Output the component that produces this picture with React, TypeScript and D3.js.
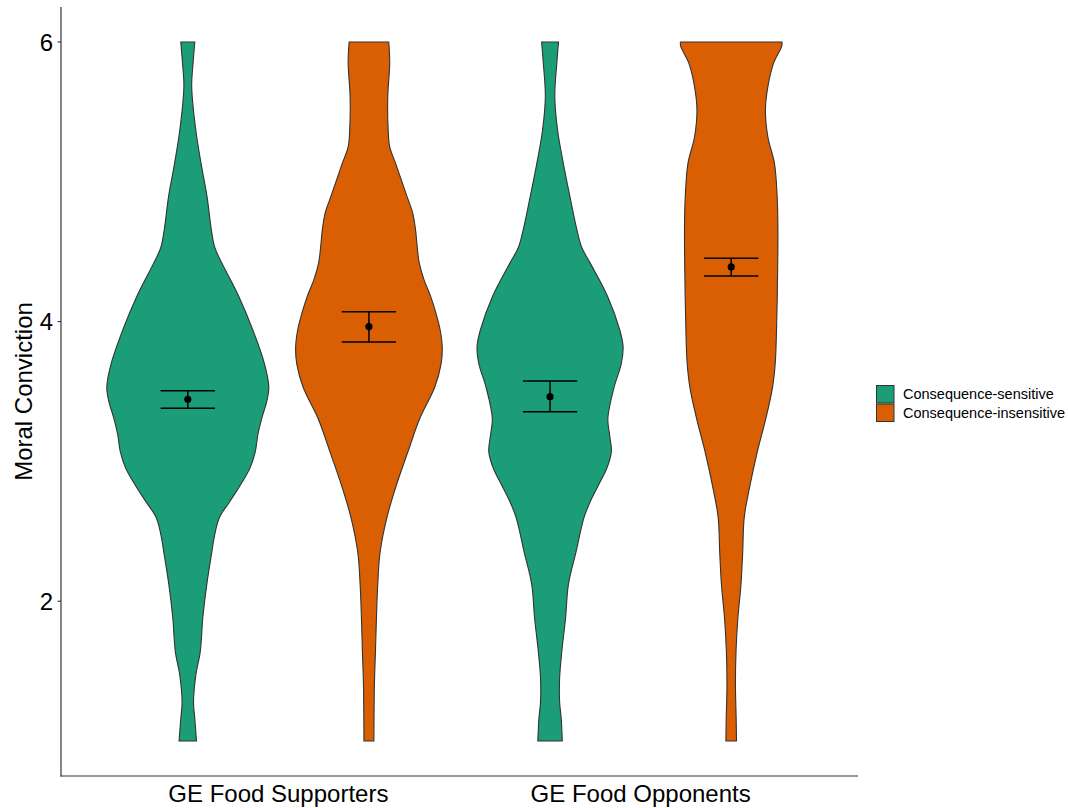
import React from 'react'
import * as d3 from 'd3'

// groups / fill levels
const groups = ['GE Food Supporters', 'GE Food Opponents']
const conditions = ['Consequence-sensitive', 'Consequence-insensitive']
const colors = ['#1b9e77', '#d95f02']
const yTicks = [2, 4, 6]

// violin outlines: conviction level and relative density
const supSensVals = [1.0, 1.16, 1.28, 1.47, 1.64, 1.88, 2.12, 2.35, 2.47, 2.6, 2.71, 2.83, 2.95, 3.07, 3.19, 3.31, 3.43, 3.53, 3.7, 3.94, 4.18, 4.42, 4.53, 4.66, 4.89, 5.13, 5.37, 5.68, 5.85, 6.0]
const supSensDens = [0.107, 0.086, 0.07, 0.098, 0.153, 0.184, 0.233, 0.294, 0.328, 0.389, 0.512, 0.644, 0.761, 0.828, 0.859, 0.908, 0.969, 0.994, 0.94, 0.798, 0.626, 0.417, 0.331, 0.288, 0.237, 0.163, 0.098, 0.048, 0.065, 0.086]

const supInsVals = [1.0, 1.4, 1.64, 1.88, 2.12, 2.35, 2.6, 2.83, 3.07, 3.31, 3.53, 3.7, 3.82, 3.94, 4.06, 4.18, 4.3, 4.42, 4.53, 4.66, 4.78, 4.89, 5.13, 5.25, 5.37, 5.61, 5.85, 6.0]
const supInsDens = [0.061, 0.067, 0.08, 0.092, 0.108, 0.137, 0.221, 0.337, 0.479, 0.626, 0.807, 0.886, 0.899, 0.874, 0.822, 0.757, 0.675, 0.617, 0.593, 0.571, 0.536, 0.47, 0.328, 0.255, 0.236, 0.231, 0.255, 0.243]

const oppSensVals = [1.0, 1.16, 1.28, 1.45, 1.64, 1.88, 2.12, 2.35, 2.6, 2.71, 2.83, 2.95, 3.07, 3.19, 3.31, 3.53, 3.7, 3.82, 3.94, 4.18, 4.42, 4.53, 4.66, 4.89, 5.13, 5.37, 5.61, 5.85, 6.0]
const oppSensDens = [0.15, 0.137, 0.117, 0.117, 0.144, 0.19, 0.225, 0.317, 0.417, 0.491, 0.593, 0.696, 0.752, 0.73, 0.709, 0.785, 0.874, 0.896, 0.855, 0.706, 0.491, 0.389, 0.328, 0.245, 0.163, 0.092, 0.058, 0.083, 0.104]

const oppInsVals = [1.0, 1.16, 1.4, 1.64, 1.88, 2.12, 2.35, 2.6, 2.83, 3.07, 3.31, 3.53, 3.7, 3.94, 4.3, 4.66, 4.89, 5.13, 5.32, 5.51, 5.68, 5.85, 5.97, 6.0]
const oppInsDens = [0.065, 0.061, 0.052, 0.059, 0.082, 0.12, 0.141, 0.16, 0.231, 0.321, 0.426, 0.507, 0.54, 0.556, 0.568, 0.573, 0.564, 0.531, 0.45, 0.42, 0.45, 0.521, 0.62, 0.623]

// mean and standard error bars
const means = [3.444, 3.964, 3.463, 4.391]
const upper = [3.506, 4.071, 3.575, 4.453]
const lower = [3.38, 3.854, 3.356, 4.326]

const violins = [
  { g: 0, c: 0, vals: supSensVals, dens: supSensDens },
  { g: 0, c: 1, vals: supInsVals, dens: supInsDens },
  { g: 1, c: 0, vals: oppSensVals, dens: oppSensDens },
  { g: 1, c: 1, vals: oppInsVals, dens: oppInsDens },
]

const W = 1068
const H = 808
const margin = { left: 61, right: 858, top: 7, bottom: 776 }
const font = '"Liberation Sans", Arial, Helvetica, sans-serif'

export default function App() {
  const x = d3.scaleLinear().domain([0.4, 2.6]).range([margin.left, margin.right])
  const y = d3.scaleLinear().domain([0.75, 6.25]).range([margin.bottom, margin.top])
  const dodge = 0.25
  const halfW = 0.225

  const center = (g: number, c: number) => x(g + 1 + (c === 0 ? -dodge : dodge))
  const unit = x(1) - x(0)

  return (
    <svg width={W} height={H} style={{ position: 'absolute', left: 0, top: 0, background: '#fff' }} fontFamily={font}>
      {violins.map((v, i) => {
        const cx = center(v.g, v.c)
        const pts = v.vals.map((val, k) => ({ val, d: v.dens[k] }))
        const area = d3.area<{ val: number; d: number }>()
          .y(p => y(p.val))
          .x0(p => cx - p.d * halfW * unit)
          .x1(p => cx + p.d * halfW * unit)
          .curve(d3.curveCatmullRom)
        return (
          <path key={'v' + i} d={area(pts) || ''} fill={colors[v.c]} stroke="#333333" strokeWidth={1.1} />
        )
      })}

      {violins.map((v, i) => {
        const cx = center(v.g, v.c)
        const bw = 0.075 * unit
        return (
          <g key={'e' + i} stroke="#000" strokeWidth={1.5}>
            <line x1={cx - bw} x2={cx + bw} y1={y(upper[i])} y2={y(upper[i])} />
            <line x1={cx - bw} x2={cx + bw} y1={y(lower[i])} y2={y(lower[i])} />
            <line x1={cx} x2={cx} y1={y(upper[i])} y2={y(lower[i])} />
            <circle cx={cx} cy={y(means[i])} r={3.6} fill="#000" stroke="none" />
          </g>
        )
      })}

      {/* axes */}
      <line x1={margin.left} x2={margin.left} y1={margin.top} y2={margin.bottom + 0.5} stroke="#333" strokeWidth={1.2} />
      <line x1={margin.left - 0.5} x2={margin.right} y1={margin.bottom} y2={margin.bottom} stroke="#333" strokeWidth={1.2} />

      {yTicks.map(t => (
        <g key={'t' + t}>
          <line x1={margin.left - 3.5} x2={margin.left} y1={y(t)} y2={y(t)} stroke="#333" strokeWidth={1.1} />
          <text x={margin.left - 8} y={y(t)} dy="0.36em" textAnchor="end" fontSize={24} fill="#000">{t}</text>
        </g>
      ))}

      {groups.map((g, i) => (
        <text key={'x' + i} x={x(i + 1)} y={802} textAnchor="middle" fontSize={24} fill="#000">{g}</text>
      ))}

      <text transform={`translate(31.5, ${(margin.top + margin.bottom) / 2}) rotate(-90)`} textAnchor="middle" fontSize={24} fill="#000">
        Moral Conviction
      </text>

      {/* legend */}
      {conditions.map((c, i) => (
        <g key={'l' + i} transform={`translate(876, ${385 + i * 18.5})`}>
          <rect x={0.5} y={0.5} width={17.5} height={17.5} fill={colors[i]} stroke="#333" strokeWidth={1} />
          <text x={27} y={14} fontSize={14.5} fill="#000">{c}</text>
        </g>
      ))}
    </svg>
  )
}
